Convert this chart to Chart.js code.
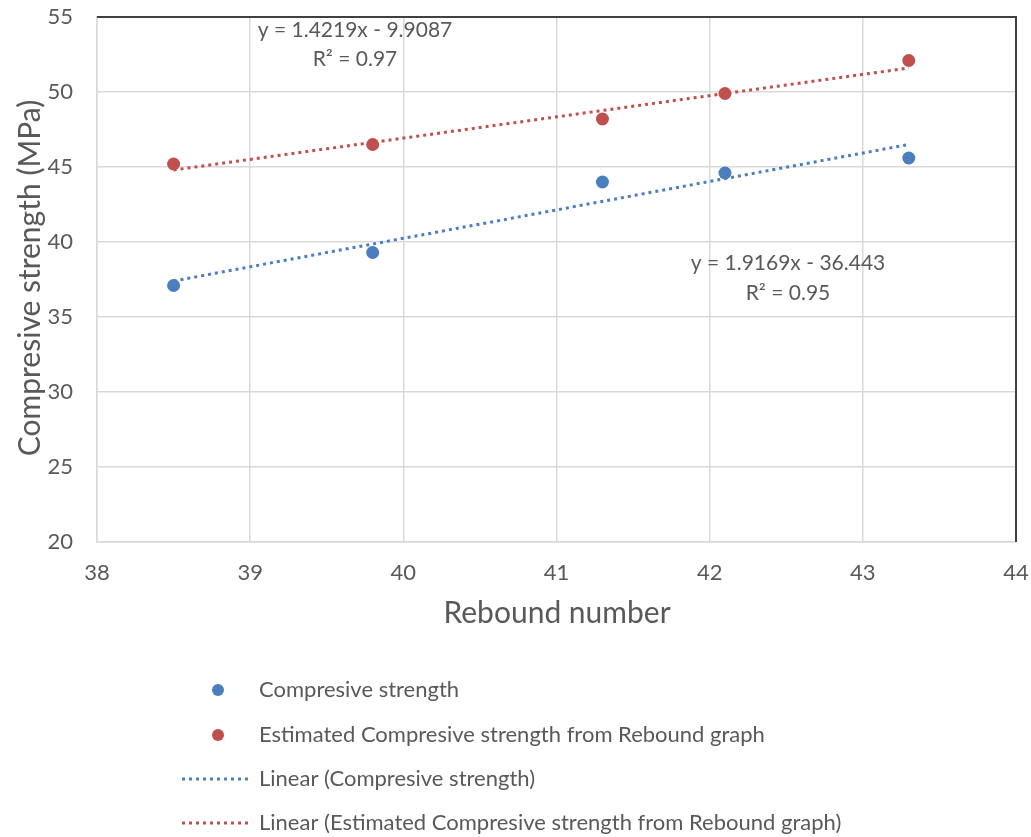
<!DOCTYPE html>
<html>
<head>
<meta charset="utf-8">
<script src="https://cdn.jsdelivr.net/npm/chart.js@4"></script>
<style>
  body { margin: 0; background: #fff; }
  canvas { display: block; }
</style>
</head>
<body>
<canvas id="myChart" width="1031" height="837"></canvas>
<script>
// rebound numbers (x) and strengths (MPa)
var reboundNumbers = [38.5, 39.8, 41.3, 42.1, 43.3];
var compStrength = [37.1, 39.3, 44.0, 44.6, 45.6];
var estStrength = [45.2, 46.5, 48.2, 49.9, 52.1];

// trend line end points
var trendX = [38.5, 43.3];
var trendComp = [37.4, 46.5];
var trendEst = [44.8, 51.6];

var xTicks = [38, 39, 40, 41, 42, 43, 44];
var yTicks = [20, 25, 30, 35, 40, 45, 50, 55];

var eqComp = ['y = 1.9169x - 36.443', 'R² = 0.95'];
var eqEst = ['y = 1.4219x - 9.9087', 'R² = 0.97'];

var legendLabels = [
    'Compresive strength',
    'Estimated Compresive strength from Rebound graph',
    'Linear (Compresive strength)',
    'Linear (Estimated Compresive strength from Rebound graph)'
];

var blue = '#4A7EBF';
var red = '#C0504D';
var textColor = '#595959';
var fontName = 'Lato, "Open Sans", sans-serif';

function toPoints(xs, ys) {
    var pts = [];
    for (var i = 0; i < xs.length; i++) {
        pts.push({ x: xs[i], y: ys[i] });
    }
    return pts;
}

// draws titles, equations, the dark frame edges and the legend
var extras = {
    id: 'extras',
    afterDraw: function (chart) {
        var ctx = chart.ctx;
        var a = chart.chartArea;
        ctx.save();

        // dark top and right edges
        ctx.strokeStyle = '#404040';
        ctx.lineWidth = 2;
        ctx.beginPath();
        ctx.moveTo(a.left, a.top);
        ctx.lineTo(a.right, a.top);
        ctx.lineTo(a.right, a.bottom);
        ctx.stroke();

        ctx.fillStyle = textColor;
        ctx.textAlign = 'center';
        ctx.textBaseline = 'middle';

        // axis titles
        ctx.font = '30px ' + fontName;
        ctx.fillText('Rebound number', 557, 613);
        ctx.save();
        ctx.translate(30, 278);
        ctx.rotate(-Math.PI / 2);
        ctx.fillText('Compresive strength (MPa)', 0, 0);
        ctx.restore();

        // trend line equations
        ctx.font = '21px ' + fontName;
        ctx.fillText(eqEst[0], 355, 30);
        ctx.fillText(eqEst[1], 355, 59);
        ctx.fillText(eqComp[0], 788, 263);
        ctx.fillText(eqComp[1], 788, 293);

        // legend
        var rows = [690, 735, 779, 823];
        var ds = chart.data.datasets;
        ctx.textAlign = 'left';
        ctx.font = '22px ' + fontName;
        for (var i = 0; i < ds.length; i++) {
            var y = rows[i];
            if (ds[i].showLine) {
                ctx.strokeStyle = ds[i].borderColor;
                ctx.lineWidth = 3;
                ctx.setLineDash(ds[i].borderDash);
                ctx.beginPath();
                ctx.moveTo(182, y);
                ctx.lineTo(252, y);
                ctx.stroke();
                ctx.setLineDash([]);
            } else {
                ctx.fillStyle = ds[i].backgroundColor;
                ctx.beginPath();
                ctx.arc(218, y, 6, 0, Math.PI * 2);
                ctx.fill();
            }
            ctx.fillStyle = textColor;
            ctx.fillText(ds[i].label, 259, y);
        }
        ctx.restore();
    }
};

var ctx = document.getElementById('myChart').getContext('2d');
var myChart = new Chart(ctx, {
    type: 'scatter',
    data: {
        datasets: [{
            label: legendLabels[0],
            data: toPoints(reboundNumbers, compStrength),
            backgroundColor: blue,
            borderColor: blue,
            pointRadius: 6.5,
            pointBorderWidth: 0,
            showLine: false,
            order: 1
        }, {
            label: legendLabels[1],
            data: toPoints(reboundNumbers, estStrength),
            backgroundColor: red,
            borderColor: red,
            pointRadius: 6.5,
            pointBorderWidth: 0,
            showLine: false,
            order: 1
        }, {
            label: legendLabels[2],
            data: toPoints(trendX, trendComp),
            borderColor: blue,
            backgroundColor: blue,
            borderWidth: 3,
            borderDash: [3, 4],
            pointRadius: 0,
            showLine: true,
            order: 2
        }, {
            label: legendLabels[3],
            data: toPoints(trendX, trendEst),
            borderColor: red,
            backgroundColor: red,
            borderWidth: 3,
            borderDash: [3, 4],
            pointRadius: 0,
            showLine: true,
            order: 2
        }]
    },
    options: {
        responsive: false,
        animation: false,
        layout: {
            padding: { top: 17, right: 15, left: 0, bottom: 0 }
        },
        plugins: {
            legend: { display: false },
            tooltip: { enabled: false }
        },
        scales: {
            x: {
                type: 'linear',
                min: xTicks[0],
                max: xTicks[xTicks.length - 1],
                afterBuildTicks: function (scale) {
                    scale.ticks = xTicks.map(function (v) { return { value: v }; });
                },
                afterFit: function (scale) {
                    scale.height = 295;
                    scale.paddingLeft = 0;
                    scale.paddingRight = 0;
                },
                grid: { color: '#d9d9d9', lineWidth: 1.5, drawTicks: false },
                border: { color: '#d9d9d9', width: 1.5 },
                ticks: {
                    padding: 18,
                    color: textColor,
                    font: { family: fontName, size: 22 }
                }
            },
            y: {
                type: 'linear',
                min: yTicks[0],
                max: yTicks[yTicks.length - 1],
                afterBuildTicks: function (scale) {
                    scale.ticks = yTicks.map(function (v) { return { value: v }; });
                },
                afterFit: function (scale) {
                    scale.width = 97;
                    scale.paddingTop = 0;
                    scale.paddingBottom = 0;
                },
                grid: { color: '#d9d9d9', lineWidth: 1.5, drawTicks: false },
                border: { color: '#d9d9d9', width: 1.5 },
                ticks: {
                    padding: 24,
                    color: textColor,
                    font: { family: fontName, size: 22 }
                }
            }
        }
    },
    plugins: [extras]
});
</script>
</body>
</html>
